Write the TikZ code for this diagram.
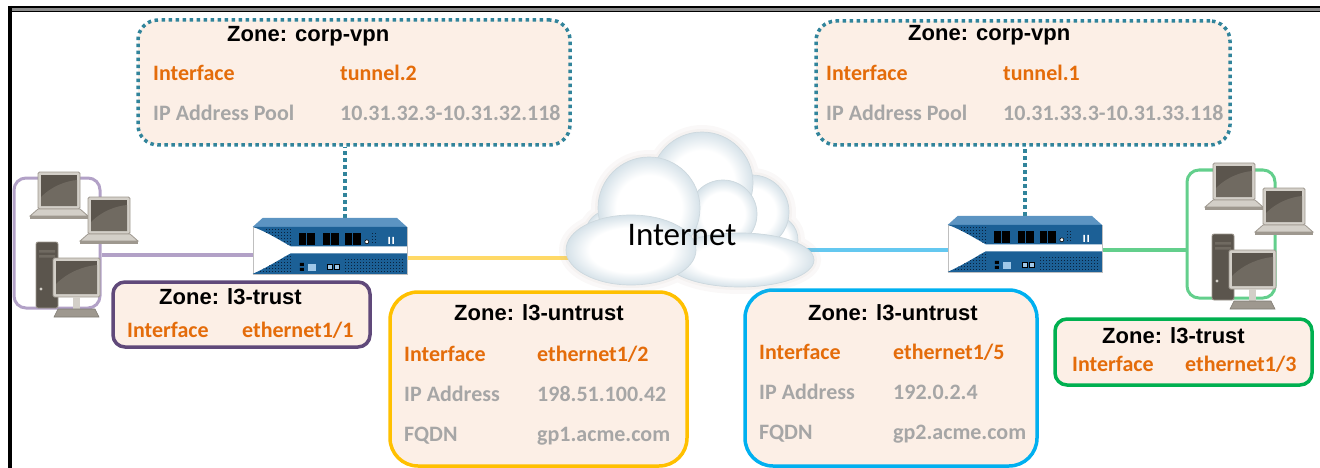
\documentclass[tikz,border=0pt]{standalone}
\usepackage{fontspec}
\usepackage{tikz}
\newfontfamily\titlefont{Liberation Sans}
\newfontfamily\rowfont{Carlito}

\definecolor{zonefill}{RGB}{252,239,230}
\definecolor{ifcorange}{RGB}{228,108,10}
\definecolor{addrgrey}{RGB}{166,166,166}
\definecolor{vpnteal}{RGB}{49,132,155}
\definecolor{trustpurple}{RGB}{96,73,122}
\definecolor{untrustgold}{RGB}{255,192,0}
\definecolor{untrustblue}{RGB}{0,176,240}
\definecolor{trustgreen}{RGB}{0,176,80}
\definecolor{lanpurple}{RGB}{178,161,199}
\definecolor{langreen}{RGB}{99,207,140}
\definecolor{linkyellow}{RGB}{255,217,102}
\definecolor{linkblue}{RGB}{100,200,240}
\definecolor{fwbody}{RGB}{28,96,150}
\definecolor{fwtop}{RGB}{92,148,194}
\definecolor{fwdot}{RGB}{10,35,62}
\definecolor{fwlight}{RGB}{160,200,232}
\definecolor{devscreen}{RGB}{91,85,77}
\definecolor{devglare}{RGB}{112,106,97}
\definecolor{devframe}{RGB}{211,207,200}
\definecolor{devline}{RGB}{158,152,143}
\definecolor{cloudedge}{RGB}{214,226,233}
\definecolor{cloudline}{RGB}{205,216,222}
\definecolor{haze}{RGB}{190,170,160}

\pgfdeclareradialshading{puff}{\pgfpoint{0bp}{0bp}}{color(0bp)=(white); color(16bp)=(white); color(25bp)=(cloudedge); color(50bp)=(cloudedge)}

\begin{document}
\begin{tikzpicture}[x=1pt,y=-1pt,
  zonebox/.style={fill=zonefill, line width=3.5pt, rounded corners=12pt, inner sep=0pt},
  vpnbox/.style={zonebox, draw=vpnteal, dash pattern=on 3.5pt off 3.5pt, rounded corners=20pt},
  zonetitle/.style={anchor=base west, inner sep=0pt, font=\titlefont\bfseries\fontsize{22}{26}\selectfont},
  ifrow/.style={anchor=base west, inner sep=0pt, text=ifcorange, font=\rowfont\bfseries\fontsize{22}{26}\selectfont},
  iprow/.style={ifrow, text=addrgrey},
  lanbox/.style={line width=3pt, rounded corners=12pt, minimum width=86pt, minimum height=130pt, inner sep=0pt},
  link/.style={line width=3.5pt},
  vpnlink/.style={line width=3.5pt, draw=vpnteal, dash pattern=on 3.5pt off 3.5pt},
  fwnode/.style={minimum width=154pt, minimum height=56pt, inner sep=0pt},
  puff/.style={shading=puff, draw=cloudline, line width=0.7pt},
  laptop/.pic={
    \filldraw[fill=devframe, draw=devline, line width=0.8pt, rounded corners=1.5pt] (8,0) rectangle (50,37);
    \fill[devscreen] (11,3) rectangle (47,34);
    \fill[devglare] (11,34) -- (11,25) .. controls (22,14) and (36,9) .. (47,8) -- (47,34) -- cycle;
    \filldraw[fill=devframe, draw=devline, line width=0.8pt] (8,37) -- (50,37) -- (58,44) -- (0,44) -- cycle;
    \fill[devline] (0,44) rectangle (58,46.5);
  },
  desktop/.pic={
    \filldraw[fill=devscreen, draw=devline, line width=0.8pt, rounded corners=2pt] (0,0) rectangle (22,66);
    \fill[devglare] (3,8) rectangle (19,10.5) (3,13) rectangle (19,15.5);
    \fill[devframe] (5,47) circle (1.6);
    \filldraw[fill=devframe, draw=devline, line width=0.8pt, rounded corners=1.5pt] (17,16) rectangle (64,55);
    \fill[devscreen] (20,19) rectangle (61,52);
    \fill[devglare] (20,52) -- (20,42) .. controls (32,30) and (48,24) .. (61,23) -- (61,52) -- cycle;
    \fill[devframe] (37,55) rectangle (44,67);
    \filldraw[fill=devline, draw=devline!80!black, line width=0.6pt] (22,67) -- (59,67) -- (63,75) -- (18,75) -- cycle;
  },
  firewall/.pic={
    \fill[fwtop] (10,0) -- (144,0) -- (154,9) -- (0,9) -- cycle;
    \filldraw[fill=white, draw=black!25, line width=0.6pt] (0,9) rectangle (154,56);
    \fill[fwbody] (0,9) .. controls (14,14) and (28,23) .. (38,28.5) -- (154,28.5) -- (154,9) -- cycle;
    \fill[fwbody] (38,35.5) .. controls (28,41) and (14,50) .. (0,56) -- (154,56) -- (154,35.5) -- cycle;
    % vent holes
    \begin{scope}
      \clip (0,9) .. controls (14,14) and (28,23) .. (38,28.5) -- (40,9) -- cycle;
      \foreach \x in {13,16,...,37} \foreach \y in {11,14,...,26} \fill[fwdot] (\x,\y) rectangle +(1.6,1.6);
    \end{scope}
    \begin{scope}
      \clip (38,35.5) .. controls (28,41) and (14,50) .. (0,56) -- (40,56) -- cycle;
      \foreach \x in {7,10,...,37} \foreach \y in {38,41,...,53} \fill[fwdot] (\x,\y) rectangle +(1.6,1.6);
    \end{scope}
    \foreach \x in {119,122} \foreach \y in {15,18,...,24} \fill[fwdot] (\x,\y) rectangle +(1.6,1.6);
    \foreach \x in {92,95,...,149} \foreach \y in {41,44,...,53} \fill[fwdot] (\x,\y) rectangle +(1.6,1.6);
    % ports
    \foreach \x in {46,54.5,70,78.5,92,100.5} \fill[black] (\x,15) rectangle +(7.5,12);
    \filldraw[fill=white, draw=black, line width=0.6pt] (114,24) circle (2);
    \fill[white] (135.5,19) rectangle +(1.5,7) (139.5,19) rectangle +(1.5,7);
    \fill[black] (47,45) rectangle (51,48) (47,50) rectangle (51,53);
    \fill[fwlight] (55,46) rectangle (63,53);
    \filldraw[fill=fwlight, draw=black, line width=0.8pt] (75,47) rectangle (80,52) (82,47) rectangle (87,52);
  }]
\useasboundingbox (0,0) rectangle (1320,468);

% frame
\fill[black!45] (8,7) rectangle (1320,12);
\draw[line width=2pt] (8,7.5) -- (1320,7.5);
\draw[line width=1.8pt] (8,11.5) -- (1320,11.5);
\draw[line width=4pt] (9.5,6) -- (9.5,468);

% zones
\node[vpnbox, minimum width=432pt, minimum height=125pt] (vpnL) at (354,82.5) {};
\node[vpnbox, minimum width=414pt, minimum height=124pt] (vpnR) at (1023,83) {};
\node[zonebox, draw=trustpurple, minimum width=257pt, minimum height=65pt] (trustL) at (241.5,314.5) {};
\node[zonebox, draw=untrustgold, rounded corners=28pt, minimum width=297pt, minimum height=174pt] (untrustL) at (538.5,379) {};
\node[zonebox, draw=untrustblue, rounded corners=28pt, minimum width=292pt, minimum height=176pt] (untrustR) at (891,378) {};
\node[zonebox, draw=trustgreen, minimum width=257pt, minimum height=66pt] (trustR) at (1183.5,352) {};

% user networks
\node[lanbox, draw=lanpurple] (lanL) at (57,243) {};
\node[lanbox, draw=langreen, minimum width=88pt, minimum height=128pt] (lanR) at (1231,234) {};

% firewalls and internet
\node[fwnode] (fwL) at (330,246) {};
\node[fwnode] (fwR) at (1025,244) {};
\node[minimum width=250pt, minimum height=160pt, inner sep=0pt] (cloud) at (690,208) {};

% links
\draw[link, lanpurple] ([yshift=-9pt]fwL.west) -- ([yshift=-9pt]fwL.west -| lanL.east);
\draw[link, linkyellow] ([yshift=-12pt]fwL.east) -- ([xshift=20pt,yshift=-12pt]fwL.east -| cloud.west);
\draw[link, linkblue] ([yshift=-6pt]fwR.west) -- ([xshift=-20pt,yshift=-6pt]fwR.west -| cloud.east);
\draw[link, langreen] ([yshift=-6pt]fwR.east) -- ([yshift=-6pt]fwR.east -| lanR.west);
\draw[vpnlink] ([xshift=15pt]fwL.north) -- ([xshift=15pt]fwL.north |- vpnL.south);
\draw[vpnlink] (fwR.north) -- (fwR.north |- vpnR.south);

% cloud
\begin{scope}[transparency group, opacity=0.08]
  \foreach \cx/\cy/\rx/\ry in {773/240/25/25, 610/235/25/25, 752/212/37/37, 702/183/51/51, 723/214/34/34, 649/208/51/51, 740/260/74/27, 631/250/65/35}
    \filldraw[fill=haze, draw=haze, line width=14pt] (\cx,\cy) ellipse [x radius=\rx, y radius=\ry];
\end{scope}
\begin{scope}[transparency group, opacity=0.08]
  \foreach \cx/\cy/\rx/\ry in {773/240/25/25, 610/235/25/25, 752/212/37/37, 702/183/51/51, 723/214/34/34, 649/208/51/51, 740/260/74/27, 631/250/65/35}
    \filldraw[fill=haze, draw=haze, line width=6pt] (\cx,\cy) ellipse [x radius=\rx, y radius=\ry];
\end{scope}
\foreach \cx/\cy/\rx/\ry in {773/240/25/25, 610/235/25/25, 752/212/37/37, 702/183/51/51, 723/214/34/34, 649/208/51/51, 740/260/74/27, 631/250/65/35}
  \path[puff] (\cx,\cy) ellipse [x radius=\rx, y radius=\ry];
\node[inner sep=0pt, font=\rowfont\fontsize{33}{38}\selectfont] (inet) at (682,235) {Internet};

% devices
\pic at (fwL.north west) {firewall};
\pic at (fwR.north west) {firewall};
\pic at (30,172) {laptop};
\pic at (80,197) {laptop};
\pic at (36,242) {desktop};
\pic at (1205,163) {laptop};
\pic at (1255,188) {laptop};
\pic at (1212,234) {desktop};

% labels
\node[zonetitle] at (227,42) {Zone: corp-vpn};
\node[ifrow] at (153,81) {Interface};
\node[ifrow] at (340,81) {tunnel.2};
\node[iprow] at (153,121) {IP Address Pool};
\node[iprow] at (340,121) {10.31.32.3-10.31.32.118};

\node[zonetitle] at (908,41) {Zone: corp-vpn};
\node[ifrow] at (826,81) {Interface};
\node[ifrow] at (1003,81) {tunnel.1};
\node[iprow] at (826,121) {IP Address Pool};
\node[iprow] at (1003,121) {10.31.33.3-10.31.33.118};

\node[zonetitle] at (159,304) {Zone: l3-trust};
\node[ifrow] at (127,337) {Interface};
\node[ifrow] at (242,337) {ethernet1/1};

\node[zonetitle] at (454,320) {Zone: l3-untrust};
\node[ifrow] at (404,361) {Interface};
\node[ifrow] at (537,361) {ethernet1/2};
\node[iprow] at (404,401) {IP Address};
\node[iprow] at (537,401) {198.51.100.42};
\node[iprow] at (404,441) {FQDN};
\node[iprow] at (537,441) {gp1.acme.com};

\node[zonetitle] at (808,320) {Zone: l3-untrust};
\node[ifrow] at (759,359) {Interface};
\node[ifrow] at (893,359) {ethernet1/5};
\node[iprow] at (759,399) {IP Address};
\node[iprow] at (893,399) {192.0.2.4};
\node[iprow] at (759,439) {FQDN};
\node[iprow] at (893,439) {gp2.acme.com};

\node[zonetitle] at (1102,343) {Zone: l3-trust};
\node[ifrow] at (1072,371) {Interface};
\node[ifrow] at (1185,371) {ethernet1/3};
\end{tikzpicture}
\end{document}
